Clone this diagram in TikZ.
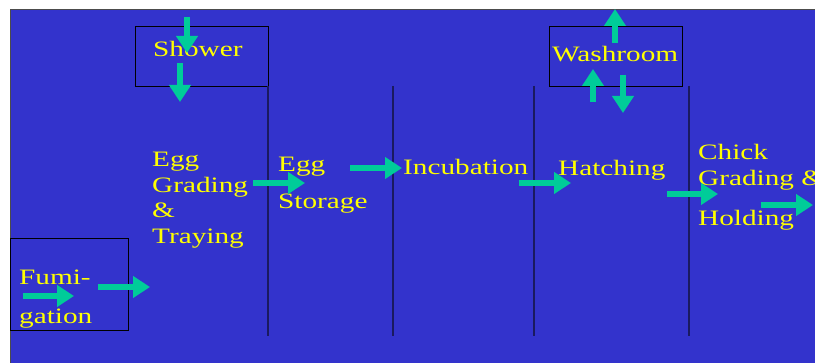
\documentclass[tikz,border=0pt]{standalone}
\usepackage{fontspec}
\setmainfont{Liberation Serif}[FakeStretch=1.33]
\usetikzlibrary{arrows.meta}
\definecolor{slideblue}{HTML}{3333CC}
\definecolor{labelyellow}{HTML}{FFFF00}
\definecolor{flowgreen}{HTML}{00CC99}
\definecolor{dividerline}{HTML}{1A1A60}

\begin{document}
\begin{tikzpicture}[x=1pt,y=-1pt,
  txt/.style={anchor=base west, inner sep=0pt, text=labelyellow,
    font=\fontsize{22}{25.5}\selectfont},
  roombox/.style={draw=black, line width=1pt, inner sep=0pt},
  flow/.style={draw=flowgreen, line width=6pt,
    -{Triangle[length=17pt,width=21pt]}},
  divider/.style={draw=dividerline, line width=1.3pt}]

\useasboundingbox (0,0) rectangle (815,363);

% slide background
\fill[slideblue] (10,10) rectangle (815,363);
\draw[gray!60!black, line width=1pt] (10,363) |- (815,10);

\begin{scope}
\clip (10,10) rectangle (815,363);

% rooms drawn as boxes
\node[roombox, minimum width=133pt, minimum height=60pt, anchor=north west] (showerbox) at (135,26) {};
\node[roombox, minimum width=133pt, minimum height=60pt, anchor=north west] (washbox) at (549,26) {};
\node[roombox, minimum width=118pt, minimum height=92pt, anchor=north west] (fumibox) at (10,238) {};

% dividing walls
\coordinate (w1t) at (268,86);  \coordinate (w1b) at (268,336);
\coordinate (w2t) at (393,86);  \coordinate (w2b) at (393,336);
\coordinate (w3t) at (534,86);  \coordinate (w3b) at (534,336);
\coordinate (w4t) at (689,86);  \coordinate (w4b) at (689,336);
\draw[divider] (w1t) -- (w1b);
\draw[divider] (w2t) -- (w2b);
\draw[divider] (w3t) -- (w3b);
\draw[divider] (w4t) -- (w4b);

% room names
\node[txt] (shower) at (153,57) {Shower};
\node[txt] (washroom) at (552,62) {Washroom};
\node[txt] (grading) at (152,167) {\begin{tabular}[t]{@{}l@{}}Egg\\Grading\\\&\\Traying\end{tabular}};
\node[txt] (storage) at (278,172) {\begin{tabular}[t]{@{}l@{}}Egg\\[11.5pt]Storage\end{tabular}};
\node[txt] (fumigation) at (19,285) {\begin{tabular}[t]{@{}l@{}}Fumi-\\[13.5pt]gation\end{tabular}};
\node[txt] (incubation) at (403,175) {Incubation};
\node[txt] (hatching) at (558,176) {Hatching};
\node[txt] (chick) at (698,160) {\begin{tabular}[t]{@{}l@{}}Chick\\[0.5pt]Grading \&\\[14.5pt]Holding\end{tabular}};
\end{scope}

% flow arrows
\coordinate (a1s) at (187,17);  \coordinate (a1e) at (187,53);
\coordinate (a2s) at (180,63);  \coordinate (a2e) at (180,102);
\coordinate (a3s) at (615,43);  \coordinate (a3e) at (615,9);
\coordinate (a4s) at (593,102); \coordinate (a4e) at (593,69);
\coordinate (a5s) at (623,75);  \coordinate (a5e) at (623,113);
\coordinate (a6s) at (23,296);  \coordinate (a6e) at (74,296);
\coordinate (a7s) at (98,287);  \coordinate (a7e) at (150,287);
\coordinate (a8s) at (253,183); \coordinate (a8e) at (305,183);
\coordinate (a9s) at (350,168); \coordinate (a9e) at (402,168);
\coordinate (a10s) at (519,183); \coordinate (a10e) at (571,183);
\coordinate (a11s) at (667,194); \coordinate (a11e) at (718,194);
\coordinate (a12s) at (761,205); \coordinate (a12e) at (813,205);

\foreach \i in {1,...,12}{
  \draw[flow] (a\i s) -- (a\i e);
}
\end{tikzpicture}
\end{document}
